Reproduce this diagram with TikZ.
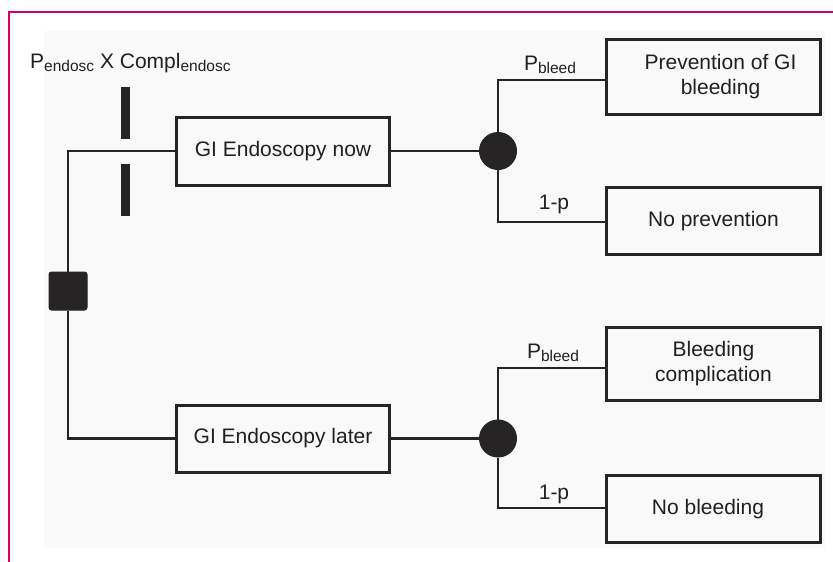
\documentclass[tikz,border=0pt]{standalone}
\usepackage{fontspec}
\setmainfont{Liberation Sans}
\definecolor{framepink}{RGB}{214,0,110}
\definecolor{bgfill}{RGB}{249,249,249}
\definecolor{ln}{RGB}{38,36,37}
\definecolor{txt}{RGB}{35,31,32}
\newcommand{\sbs}[1]{\raisebox{-3pt}{\fontsize{15.5}{15.5}\selectfont #1}}
\begin{document}
\begin{tikzpicture}[x=1pt,y=-1pt,
  every node/.style={font=\fontsize{21}{25}\selectfont, text=txt},
  box/.style={draw=ln, line width=3pt, align=center, inner sep=0pt},
  outcome/.style={box, minimum width=214pt},
  chance/.style={circle, fill=ln, draw=ln, line width=1pt, minimum size=37pt, inner sep=0pt},
  decision/.style={rectangle, fill=ln, draw=ln, line width=1pt, rounded corners=2.5pt, minimum size=38pt, inner sep=0pt},
  bar/.style={rectangle, fill=ln, minimum width=9pt, minimum height=52pt, inner sep=0pt},
  conn/.style={draw=ln, line width=2.5pt},
  lbl/.style={anchor=base, inner sep=0pt}]
\useasboundingbox (0,0) rectangle (833,562);
\fill[bgfill] (44,31) rectangle (825,548);
\draw[framepink, line width=2pt] (833,12) -- (8.5,12) -- (8.5,562);

% main nodes
\node[box, minimum width=213pt, minimum height=68pt] (now) at (283,151) {GI Endoscopy now};
\node[box, minimum width=213pt, minimum height=67pt] (later) at (283,438.5) {GI Endoscopy later};
\node[outcome, minimum height=75pt] (o1) at (713.5,77) {\hspace*{14pt}Prevention of GI\\\hspace*{14pt}bleeding};
\node[outcome, minimum height=67pt] (o2) at (713.5,221) {No prevention};
\node[outcome, minimum height=73pt] (o3) at (713.5,364) {Bleeding\\complication};
\node[outcome, minimum height=67pt] (o4) at (713.5,509) {\hspace*{-11pt}No bleeding};

% decision and chance nodes
\node[decision] (dec) at (68,291) {};
\node[chance] (c1) at (498,151) {};
\node[chance] (c2) at (498,438.5) {};
\node[bar] (b1) at (125.5,113) {};
\node[bar] (b2) at (125.5,190) {};

% connectors
\draw[conn] (dec) |- (now.west);
\draw[conn] (dec) |- (later.west);
\draw[conn] (now.east) -- (c1);
\draw[conn] (later.east) -- (c2);
\draw[conn] (c1) |- ([yshift=-3pt]o1.west);
\draw[conn] (c1) |- ([yshift=-1pt]o2.west);
\draw[conn] (c2) |- ([yshift=-4pt]o3.west);
\draw[conn] (c2) |- ([yshift=1pt]o4.west);

% labels
\node[anchor=base west, inner sep=0pt] (cost) at (30,68) {P\sbs{endosc} X Compl\sbs{endosc}};
\node[lbl] (pb1) at (550,70) {P\sbs{bleed}};
\node[lbl] (q1) at (554,209) {1-p};
\node[lbl] (pb2) at (553,358) {P\sbs{bleed}};
\node[lbl] (q2) at (554,499) {1-p};
\end{tikzpicture}
\end{document}
